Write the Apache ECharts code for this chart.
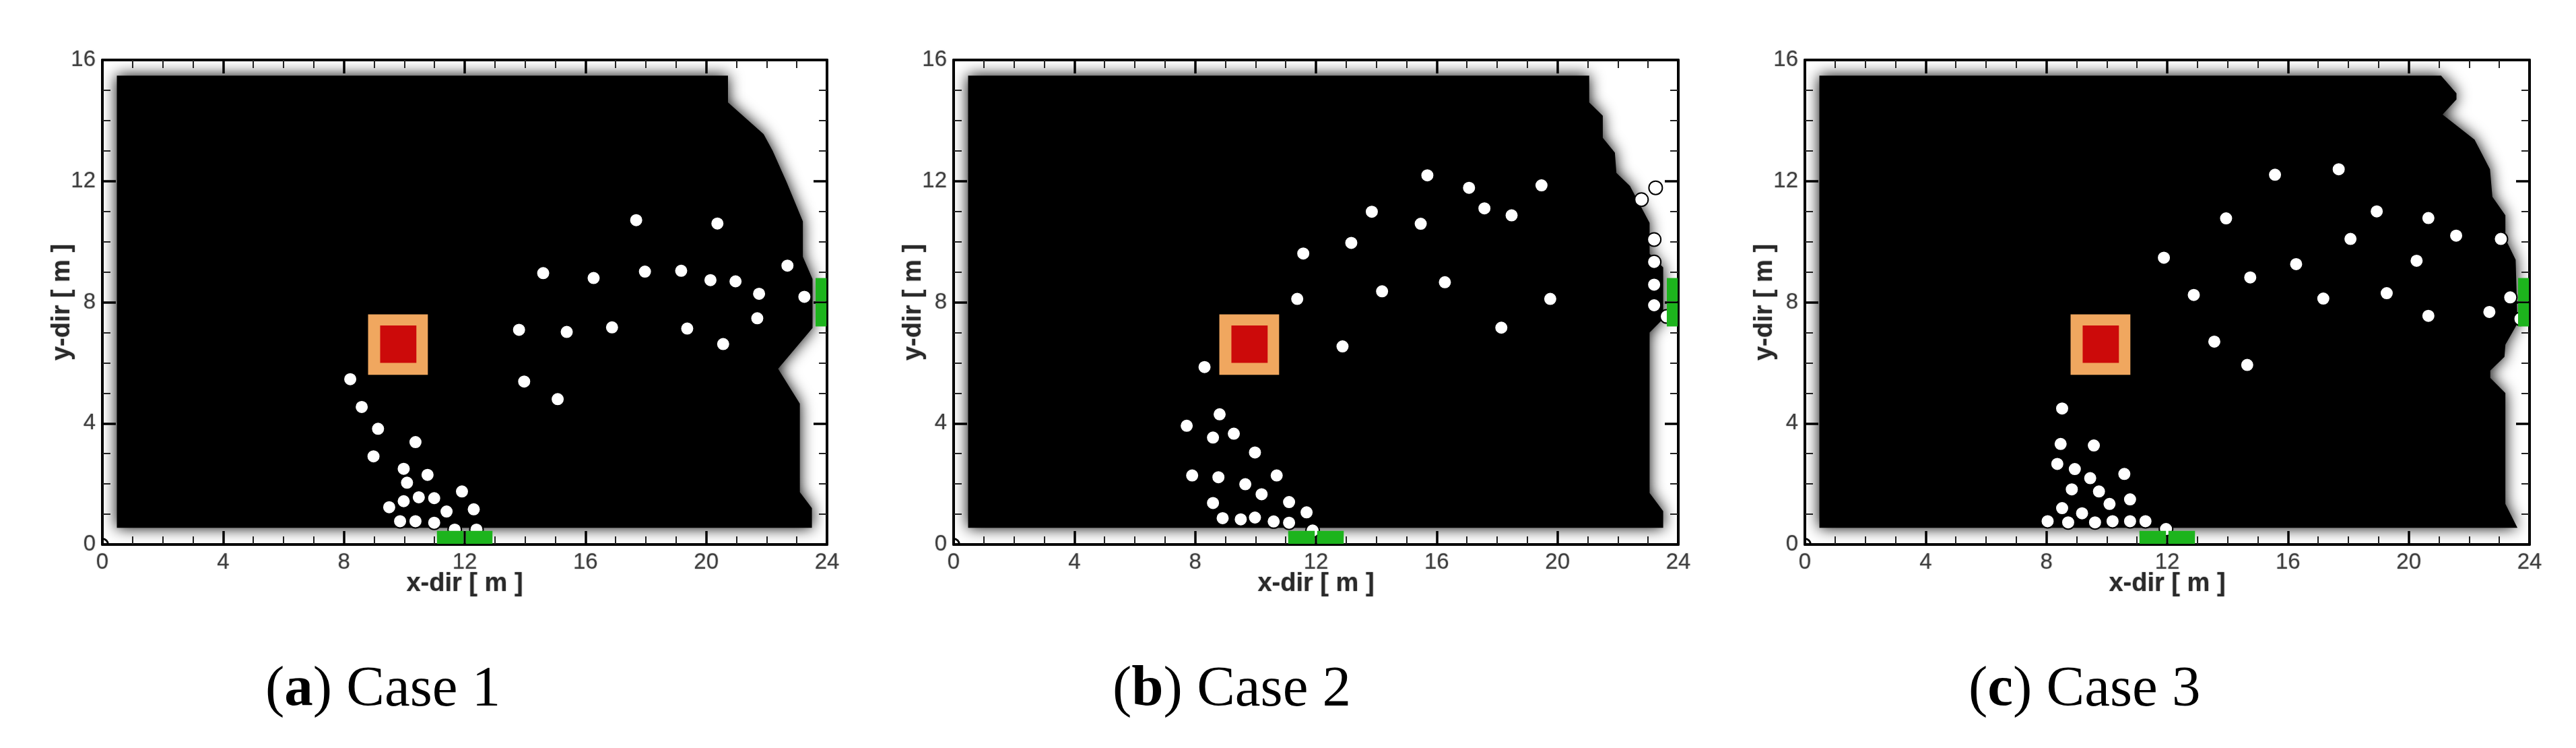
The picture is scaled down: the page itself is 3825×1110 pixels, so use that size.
<!DOCTYPE html>
<html>
<head>
<meta charset="utf-8">
<style>html,body{margin:0;padding:0;background:#fff}#c{width:3825px;height:1110px}</style>
<script src="https://cdn.jsdelivr.net/npm/echarts@6/dist/echarts.min.js"></script>
</head>
<body>
<div id="c"></div>
<script>
const xTicks = [0, 4, 8, 12, 16, 20, 24];
const yTicks = [0, 4, 8, 12, 16];
const captionLetters = ['a', 'b', 'c'];
const captionNames = ['Case 1', 'Case 2', 'Case 3'];

const case1Dots = [[17.68,10.71],[20.37,10.6],[22.69,9.21],[14.6,8.96],[16.27,8.8],[17.97,9.01],[19.17,9.04],[20.14,8.73],[20.97,8.69],[21.75,8.28],[23.25,8.18],[21.69,7.47],[19.37,7.13],[20.56,6.62],[16.88,7.17],[15.38,7.02],[13.8,7.09],[13.97,5.38],[15.08,4.8],[8.21,5.46],[8.59,4.54],[9.13,3.82],[10.37,3.38],[8.98,2.91],[9.98,2.5],[10.77,2.3],[10.09,2.04],[11.91,1.75],[10.48,1.56],[10.99,1.53],[9.98,1.43],[9.5,1.23],[11.4,1.09],[12.3,1.16],[9.86,0.77],[10.37,0.77],[10.99,0.72],[11.67,0.49],[12.39,0.49]];
const case2Dots = [[15.69,12.19],[17.07,11.78],[19.47,11.86],[17.58,11.1],[18.48,10.87],[13.85,10.99],[15.47,10.59],[13.17,9.96],[11.58,9.61],[11.38,8.11],[14.19,8.36],[16.27,8.66],[19.76,8.11],[18.14,7.16],[12.88,6.54],[8.31,5.86],[8.81,4.3],[7.72,3.92],[8.59,3.53],[9.28,3.66],[9.98,3.04],[7.9,2.28],[8.77,2.22],[9.66,1.99],[10.7,2.28],[10.2,1.66],[8.59,1.37],[11.11,1.4],[11.69,1.06],[8.91,0.87],[9.51,0.83],[9.98,0.89],[10.6,0.76],[11.11,0.72],[11.89,0.46],[23.25,11.78],[22.78,11.39],[23.2,10.07],[23.2,9.33],[23.2,8.58],[23.2,7.9],[23.62,7.53]];
const case3Dots = [[17.68,12.39],[15.57,12.21],[18.94,11.0],[20.65,10.78],[13.95,10.77],[21.57,10.2],[23.05,10.09],[18.07,10.09],[20.26,9.37],[16.27,9.26],[11.89,9.47],[14.75,8.82],[19.27,8.3],[12.88,8.24],[17.17,8.12],[23.36,8.16],[22.67,7.68],[20.65,7.55],[23.7,7.45],[13.56,6.7],[14.65,5.93],[8.52,4.49],[8.47,3.32],[9.57,3.27],[8.36,2.66],[8.94,2.49],[9.45,2.19],[10.58,2.33],[8.84,1.82],[9.74,1.75],[10.09,1.34],[10.77,1.49],[8.52,1.2],[9.18,1.03],[8.04,0.77],[8.72,0.73],[9.61,0.73],[10.19,0.77],[10.77,0.77],[11.28,0.77],[11.96,0.51]];
const originDot = [[0, 0]];

const case1Smoke = [[0.48,0.55],[0.48,15.48],[20.72,15.48],[20.72,14.6],[21.9,13.55],[22.2,13.0],[22.5,12.33],[22.66,11.97],[23.2,10.67],[23.2,9.5],[23.52,8.77],[23.52,7.15],[22.38,5.8],[23.1,4.65],[23.1,1.73],[23.5,1.2],[23.5,0.55]];
const case2Smoke = [[0.48,0.55],[0.48,15.48],[21.05,15.48],[21.05,14.6],[21.5,14.16],[21.5,13.43],[21.9,12.94],[21.95,12.27],[22.4,11.84],[23.05,10.62],[23.05,9.6],[23.5,9.15],[23.5,7.45],[23.05,7.0],[23.05,1.7],[23.5,1.1],[23.5,0.55]];
const case3Smoke = [[0.48,0.55],[0.48,15.48],[21.07,15.48],[21.58,14.9],[21.58,14.7],[21.12,14.2],[22.18,13.37],[22.69,12.39],[22.77,11.48],[23.2,10.87],[23.2,10.1],[23.54,9.4],[23.6,7.3],[23.2,6.6],[23.17,6.2],[22.7,5.74],[22.7,5.5],[23.2,5.0],[23.2,1.34],[23.6,0.55]];

const heatRing = [[8.8, 10.78, 5.6, 7.6]];
const fireCore = [[9.2, 10.4, 6.0, 7.23]];
const doors = [[11.08, 11.96, 0.02, 0.45], [12.04, 12.92, 0.02, 0.45], [23.62, 23.98, 8.03, 8.8], [23.62, 23.98, 7.2, 7.97]];

const dotSets = [case1Dots, case2Dots, case3Dots];
const smokeSets = [case1Smoke, case2Smoke, case3Smoke];
const gridLefts = [152, 1416, 2680];
const captionLefts = [389, 1647, 2918];

const tickColor = '#000';
const labelStyle = {color: '#3f3f3f', fontSize: 33, fontFamily: 'Liberation Sans', textShadowColor: 'rgba(60,60,60,.5)', textShadowBlur: 2};
const nameStyle = {color: '#2a2a2a', fontSize: 38, fontWeight: 'bold', fontFamily: 'Liberation Sans', textShadowColor: 'rgba(40,40,40,.5)', textShadowBlur: 2};

function axisBase(gridIndex, max, ticks, position, labels, name) {
  return {
    type: 'value', gridIndex, min: 0, max, interval: ticks[1] - ticks[0], position, z: 5,
    name: labels ? name : '', nameLocation: 'middle', nameGap: 40, nameMoveOverlap: false, nameTextStyle: nameStyle,
    splitLine: {show: false},
    axisLine: {show: true, onZero: false, lineStyle: {color: tickColor, width: 4}},
    axisTick: {show: true, inside: true, length: 20, lineStyle: {color: tickColor, width: 3.5}},
    minorTick: {show: true, splitNumber: 4, length: 12, lineStyle: {color: '#222', width: 2}},
    axisLabel: {show: labels, margin: 10, hideOverlap: false, showMinLabel: true, showMaxLabel: true, ...labelStyle}
  };
}

function boxSeries(rows, color, axisIndex, z) {
  return {
    type: 'custom', xAxisIndex: axisIndex, yAxisIndex: axisIndex, z, silent: true, data: rows,
    encode: {x: [0, 1], y: [2, 3]},
    renderItem(params, api) {
      const a = api.coord([api.value(0), api.value(3)]);
      const b = api.coord([api.value(1), api.value(2)]);
      return {type: 'rect', shape: {x: a[0], y: a[1], width: b[0] - a[0], height: b[1] - a[1]}, style: {fill: color}};
    }
  };
}

const grids = [], xAxes = [], yAxes = [], series = [], titles = [];
gridLefts.forEach((left, i) => {
  grids.push({left, top: 89, width: 1076, height: 719});
  xAxes.push(axisBase(i, 24, xTicks, 'bottom', true, 'x-dir [ m ]'));
  yAxes.push(axisBase(i, 16, yTicks, 'left', true, 'y-dir [ m ]'));
});
gridLefts.forEach((left, i) => {
  xAxes.push(axisBase(i, 24, xTicks, 'top', false, ''));
  yAxes.push(axisBase(i, 16, yTicks, 'right', false, ''));
});
gridLefts.forEach((left, i) => {
  const smoke = smokeSets[i];
  series.push({
    type: 'custom', xAxisIndex: i, yAxisIndex: i, z: 2, silent: true, data: smoke,
    encode: {x: 0, y: 1},
    renderItem(params, api) {
      if (params.dataIndex !== 0) return null;
      return {type: 'polygon', shape: {points: smoke.map(p => api.coord(p))},
        style: {fill: '#000', shadowColor: '#000', shadowBlur: 22}};
    }
  });
  series.push(boxSeries(heatRing, '#f0a75f', i, 3));
  series.push(boxSeries(fireCore, '#cc0a0a', i, 4));
  series.push({
    type: 'scatter', xAxisIndex: i, yAxisIndex: i, z: 6, silent: true, data: dotSets[i], symbol: 'circle', symbolSize: 20,
    itemStyle: {color: '#fff', borderColor: '#000', borderWidth: 2, opacity: 1}
  });
  series.push({
    type: 'custom', xAxisIndex: i, yAxisIndex: i, z: 6, silent: true, data: originDot,
    encode: {x: 0, y: 1},
    renderItem(params, api) {
      const c = api.coord([api.value(0), api.value(1)]);
      return {type: 'sector', shape: {cx: c[0], cy: c[1], r0: 7, r: 10, startAngle: -Math.PI / 2, endAngle: 0}, style: {fill: '#000'}};
    }
  });
  series.push(boxSeries(doors, '#1db41d', i, 7));
  titles.push({
    left: captionLefts[i], top: 977,
    text: '(' + '{b|' + captionLetters[i] + '}) ' + captionNames[i],
    textStyle: {color: '#000', fontSize: 85, fontWeight: 'normal', fontFamily: 'Liberation Serif',
      rich: {b: {fontSize: 85, fontWeight: 'bold', fontFamily: 'Liberation Serif', color: '#000'}}}
  });
});

const chart = echarts.init(document.getElementById('c'), null, {renderer: 'canvas', width: 3825, height: 1110});
chart.setOption({animation: false, backgroundColor: '#fff', title: titles, grid: grids, xAxis: xAxes, yAxis: yAxes, series});
</script>
</body>
</html>
